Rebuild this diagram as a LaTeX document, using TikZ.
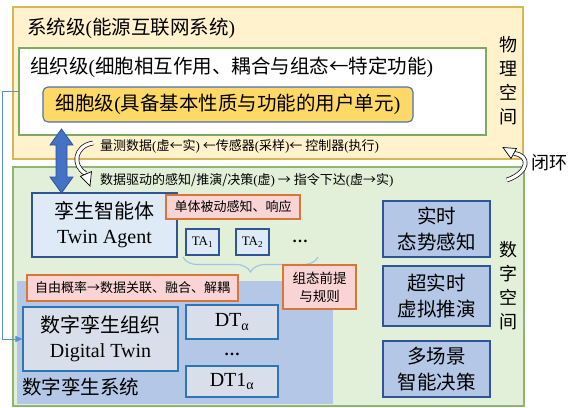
\documentclass[tikz,border=0pt]{standalone}
\usepackage{fontspec}
\setmainfont{Liberation Serif}
\newfontfamily\cjk{Noto Sans CJK SC}
\usetikzlibrary{arrows.meta,decorations.pathreplacing,calc}
\definecolor{physfill}{HTML}{FFF2CC}
\definecolor{physdraw}{HTML}{D6B656}
\definecolor{digfill}{HTML}{E2F0D9}
\definecolor{digdraw}{HTML}{8FB573}
\definecolor{orgdraw}{HTML}{7FA862}
\definecolor{cellfill}{HTML}{FFD966}
\definecolor{celldraw}{HTML}{4A6FB5}
\definecolor{agentfill}{HTML}{DEEBF7}
\definecolor{boxdraw}{HTML}{2F5597}
\definecolor{pinkfill}{HTML}{FAD4D4}
\definecolor{pinkdraw}{HTML}{D5763A}
\definecolor{sysfill}{HTML}{B4C7E7}
\definecolor{dtfill}{HTML}{D9DFEA}
\definecolor{dtdraw}{HTML}{2E75B6}
\definecolor{rightfill}{HTML}{B4C7E7}
\definecolor{linkblue}{HTML}{5B8FD6}
\definecolor{bracecol}{HTML}{9DC3E6}
\definecolor{arrowfill}{HTML}{4472C4}
\definecolor{arrowdraw}{HTML}{2F5597}
\newcommand\myLP{{\rmfamily(}}
\newcommand\myRP{{\rmfamily)}}
\begin{document}
\begin{tikzpicture}[x=1pt,y=-1pt,
  box/.style={rectangle, inner sep=0pt, line width=1.1pt},
  bigcjk/.style={font=\cjk\fontsize{19.5}{25.5}\selectfont},
  bigrm/.style={font=\fontsize{20}{25}\selectfont},
  smallcjk/.style={font=\cjk\fontsize{13}{18}\selectfont},
  pinkbox/.style={box, fill=pinkfill, draw=pinkdraw},
  rightbox/.style={box, fill=rightfill, draw=boxdraw, align=center, bigcjk},
  dtbox/.style={box, fill=dtfill, draw=dtdraw},
  ribbon/.style={double=white, double distance=3.2pt, line width=0.7pt, draw=black},
  headstyle/.style={fill=white, draw=black, line width=0.7pt, line join=miter}
]
\useasboundingbox (0,0) rectangle (573,407);

% physical space
\node[box, fill=physfill, draw=physdraw, minimum width=510pt, minimum height=152pt] (phys) at (268,83) {};
\node[bigcjk, anchor=west, inner sep=0pt] (systxt) at (27,28) {系统级\myLP 能源互联网系统\myRP};
\node[box, fill=white, draw=orgdraw, minimum width=467pt, minimum height=87pt] (org) at (252.5,91.5) {};
\node[bigcjk, anchor=west, inner sep=0pt] (orgtxt) at (30,67) {组织级\myLP 细胞相互作用、耦合与组态←特定功能\myRP};
\node[box, fill=cellfill, draw=celldraw, rounded corners=5pt, minimum width=370pt, minimum height=35pt, bigcjk] (cell) at (228,104.5) {细胞级\myLP 具备基本性质与功能的用户单元\myRP};
\node[font=\cjk\fontsize{18}{24}\selectfont, align=center, inner sep=0pt] (physlbl) at (508,81) {物\\理\\空\\间};
\node[smallcjk, anchor=west, inner sep=0pt] (meas) at (100,146) {量测数据\myLP 虚←实\myRP{} ←传感器\myLP 采样\myRP← 控制器\myLP 执行\myRP};

% digital space
\node[box, fill=digfill, draw=digdraw, minimum width=511pt, minimum height=239pt] (dig) at (268.5,286.5) {};
\node[smallcjk, anchor=west, inner sep=0pt] (drive) at (100,180) {数据驱动的感知/推演/决策\myLP 虚\myRP{} → 指令下达\myLP 虚→实\myRP};
\node[font=\cjk\fontsize{18}{24}\selectfont, align=center, inner sep=0pt] (diglbl) at (508,285.5) {数\\字\\空\\间};

% digital twin system region
\node[rectangle, inner sep=0pt, fill=sysfill, minimum width=316pt, minimum height=123pt] (sys) at (175,342.5) {};
\node[bigcjk, anchor=west, inner sep=0pt] (systxt2) at (22,387) {数字孪生系统};

% twin agent
\node[box, fill=agentfill, draw=boxdraw, minimum width=145pt, minimum height=64pt, align=center, font=\fontsize{20}{25}\selectfont] (agent) at (104.5,225)
  {{\cjk 孪生智能体}\\Twin Agent};
\node[pinkbox, minimum width=134pt, minimum height=24pt, smallcjk] (single) at (233,207) {单体被动感知、响应};
\node[box, fill=agentfill, draw=boxdraw, minimum width=33pt, minimum height=26pt, font=\fontsize{13}{15}\selectfont] (ta1) at (202.5,242) {TA\textsubscript{1}};
\node[box, fill=agentfill, draw=boxdraw, minimum width=33pt, minimum height=26pt, font=\fontsize{13}{15}\selectfont] (ta2) at (252.5,242) {TA\textsubscript{2}};
\node[font=\bfseries\fontsize{16}{18}\selectfont, inner sep=0pt] (tadots) at (300,241) {…};
\coordinate (brL) at (183,257);
\coordinate (brR) at (318,257);
\draw[bracecol, line width=1.1pt, decorate, decoration={brace, mirror, amplitude=15pt}] (brL) -- (brR);

% dt boxes
\node[pinkbox, minimum width=211pt, minimum height=26pt, smallcjk] (free) at (132.5,288) {自由概率→数据关联、融合、解耦};
\node[pinkbox, minimum width=73pt, minimum height=44pt, align=center, font=\cjk\fontsize{13.5}{18}\selectfont] (cfg) at (319.5,287) {组态前提\\与规则};
\node[dtbox, minimum width=155pt, minimum height=64pt, align=center, font=\fontsize{20}{25}\selectfont] (dtorg) at (100.5,339)
  {{\cjk 数字孪生组织}\\Digital Twin};
\node[dtbox, minimum width=92pt, minimum height=34pt, bigrm] (dta) at (232,322) {DT\textsubscript{α}};
\node[font=\bfseries\fontsize{16}{18}\selectfont, inner sep=0pt] (dtdots) at (232,354) {…};
\node[dtbox, minimum width=92pt, minimum height=31pt, bigrm] (dt1a) at (232,381.5) {DT1\textsubscript{α}};

% right boxes
\node[rightbox, minimum width=107pt, minimum height=56pt] (r1) at (436.5,229) {实时\\态势感知};
\node[rightbox, minimum width=107pt, minimum height=60pt] (r2) at (436.5,296) {超实时\\虚拟推演};
\node[rightbox, minimum width=107pt, minimum height=56pt] (r3) at (436.5,369) {多场景\\智能决策};

% link from organisation level to digital twin organisation
\draw[linkblue, line width=1pt, -{Triangle[length=7pt,width=6pt]}] (org.west) -- ++(-15.5,0) |- (dtorg.west);

% double arrow between cell and twin agent
\filldraw[fill=arrowfill, draw=arrowdraw, line width=0.8pt, line join=miter]
  (61.5,129) -- (73,145) -- (67,145) -- (67,177) -- (73,177) -- (61.5,193)
  -- (50,177) -- (56,177) -- (56,145) -- (50,145) -- cycle;

% closed loop ribbons
\draw[ribbon] (93,143) .. controls (74,146) and (72,166) .. (85.5,173.5);
\filldraw[headstyle] (91.5,171.6) -- (90,186) -- (80.5,176.3) -- cycle;
\draw[ribbon] (507,180) .. controls (530,172) and (530,155) .. (514,153.5);
\filldraw[headstyle] (516.5,148.5) -- (503,147.5) -- (511,158.5) -- cycle;
\node[font=\cjk\fontsize{18}{20}\selectfont, anchor=west, inner sep=0pt] (loop) at (531,163) {闭环};
\end{tikzpicture}
\end{document}
